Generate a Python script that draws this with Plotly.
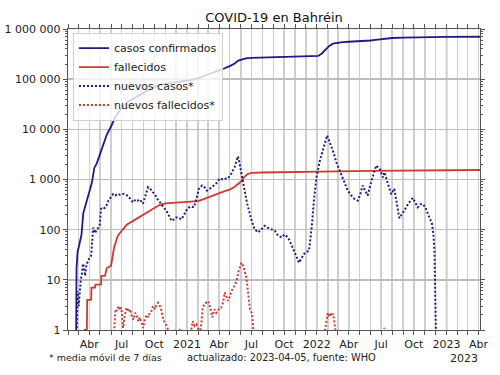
import plotly.graph_objects as go

# ---------------- data ----------------
cases_dates = ["2020-02-24","2020-02-25","2020-02-28","2020-03-05","2020-03-10","2020-03-15","2020-03-20",
    "2020-03-25","2020-04-01","2020-04-08","2020-04-15","2020-04-22","2020-05-01","2020-05-10","2020-05-20",
    "2020-06-01","2020-06-15","2020-07-01","2020-07-15","2020-08-01","2020-08-15","2020-09-01","2020-09-15",
    "2020-10-01","2020-10-15","2020-11-01","2020-11-15","2020-12-01","2020-12-15","2021-01-01","2021-01-15",
    "2021-02-01","2021-02-15","2021-03-01","2021-03-15","2021-04-01","2021-04-15","2021-05-01","2021-05-15",
    "2021-05-25","2021-06-05","2021-06-15","2021-07-01","2021-08-01","2021-09-01","2021-10-01","2021-11-01",
    "2021-12-01","2021-12-25","2022-01-05","2022-01-15","2022-01-25","2022-02-05","2022-02-15","2022-03-01",
    "2022-03-15","2022-04-01","2022-05-01","2022-06-01","2022-06-15","2022-07-01","2022-07-15","2022-08-01",
    "2022-09-01","2022-10-01","2022-11-01","2022-12-01","2023-01-01","2023-04-05"]
cases_values = [1,17,36,52,79,214,285,419,600,850,1700,2100,3200,4900,7800,11400,18500,26500,34500,40500,
    46000,52000,60000,70000,76000,81000,84000,87000,89500,92500,97000,104000,115000,124000,135000,148000,
    163000,182000,205000,235000,252000,260000,266000,270000,273500,275500,276800,277800,280000,290000,
    325000,385000,460000,510000,535000,550000,557000,568000,590000,610000,632000,650000,662000,675000,
    685000,693000,696000,698000,700000]

deaths_dates = ["2020-03-16","2020-03-25","2020-03-26","2020-04-06","2020-04-07","2020-04-17","2020-04-18",
    "2020-04-30","2020-05-01","2020-05-04","2020-05-05","2020-05-14","2020-05-15","2020-05-20","2020-06-01",
    "2020-06-10","2020-06-20","2020-07-01","2020-07-15","2020-08-01","2020-08-15","2020-09-01","2020-09-15",
    "2020-10-01","2020-10-15","2020-11-01","2020-11-15","2020-12-01","2020-12-20","2021-01-10","2021-02-01",
    "2021-02-15","2021-03-01","2021-03-15","2021-04-01","2021-04-15","2021-05-01","2021-05-15","2021-06-01",
    "2021-06-10","2021-06-20","2021-07-01","2021-08-01","2021-10-01","2022-01-01","2022-03-01","2022-06-01",
    "2022-09-01","2023-01-01","2023-04-05"]
deaths_values = [1,1,4,4,7,7,8,8,8,8,12,12,12,17,19,45,75,95,125,148,170,195,225,265,310,335,341,345,350,
    355,372,400,440,480,530,580,630,720,900,1100,1280,1350,1380,1390,1395,1450,1480,1510,1540,1545]

new_cases_dates = ["2020-02-24","2020-02-26","2020-02-28","2020-03-02","2020-03-05","2020-03-08","2020-03-11",
    "2020-03-14","2020-03-17","2020-03-20","2020-03-24","2020-03-28","2020-04-02","2020-04-06","2020-04-09",
    "2020-04-12","2020-04-16","2020-04-21","2020-04-26","2020-04-30","2020-05-04","2020-05-09","2020-05-14",
    "2020-05-19","2020-05-25","2020-06-01","2020-06-07","2020-06-13","2020-06-20","2020-06-26","2020-07-05",
    "2020-07-12","2020-07-19","2020-07-26","2020-08-02","2020-08-09","2020-08-15","2020-08-21","2020-08-30",
    "2020-09-06","2020-09-13","2020-09-20","2020-09-27","2020-10-05","2020-10-12","2020-10-17","2020-10-25",
    "2020-11-04","2020-11-11","2020-11-18","2020-11-25","2020-12-01","2020-12-07","2020-12-16","2020-12-24",
    "2021-01-01","2021-01-10","2021-01-20","2021-01-27","2021-02-03","2021-02-12","2021-02-19","2021-02-26",
    "2021-03-06","2021-03-12","2021-03-17","2021-03-25","2021-04-03","2021-04-12","2021-04-20","2021-04-26",
    "2021-05-05","2021-05-15","2021-05-20","2021-05-24","2021-05-28","2021-06-02","2021-06-07","2021-06-12",
    "2021-06-19","2021-06-26","2021-07-03","2021-07-10","2021-07-20","2021-07-28","2021-08-07","2021-08-15",
    "2021-08-26","2021-09-05","2021-09-14","2021-09-24","2021-10-02","2021-10-12","2021-10-19","2021-10-26",
    "2021-11-04","2021-11-12","2021-11-20","2021-11-29","2021-12-10","2021-12-18","2021-12-24","2021-12-31",
    "2022-01-09","2022-01-18","2022-01-25","2022-01-30","2022-02-06","2022-02-15","2022-02-25","2022-03-10",
    "2022-03-20","2022-03-29","2022-04-08","2022-04-17","2022-04-26","2022-05-03","2022-05-10","2022-05-17",
    "2022-05-24","2022-06-03","2022-06-10","2022-06-17","2022-06-27","2022-07-06","2022-07-10","2022-07-18",
    "2022-07-29","2022-08-07","2022-08-14","2022-08-21","2022-09-04","2022-09-15","2022-09-28","2022-10-05",
    "2022-10-12","2022-10-19","2022-10-26","2022-11-02","2022-11-09","2022-11-16","2022-11-21","2022-11-25",
    "2022-11-28","2022-12-01","2022-12-03"]
new_cases_values = [0.3,4,6,3,6,10,13,21,18,12,20,24,28,30,60,110,85,95,110,120,260,280,270,300,380,450,
    510,480,520,500,520,500,470,400,350,400,380,400,330,480,700,640,560,470,380,350,290,240,190,150,160,
    175,175,160,200,260,290,280,400,650,760,700,600,650,700,760,850,1050,1000,1050,1050,1300,1780,2300,
    2900,2200,1500,950,600,330,205,140,102,88,100,120,110,102,95,76,70,80,70,55,41,30,22,28,35,38,120,400,
    1100,2300,3800,6000,7600,5500,3800,2200,1300,850,600,480,410,380,500,760,600,480,900,1400,1900,1630,
    1100,1400,900,510,650,350,170,240,330,430,350,280,320,325,280,220,160,130,80,38,4,0.3]

new_deaths_dates = ["2020-06-05","2020-06-10","2020-06-14","2020-06-18","2020-06-22","2020-06-26","2020-06-30",
    "2020-07-05","2020-07-10","2020-07-15","2020-07-20","2020-07-25","2020-07-29","2020-08-03","2020-08-08",
    "2020-08-12","2020-08-17","2020-08-21","2020-08-26","2020-08-30","2020-09-04","2020-09-09","2020-09-14",
    "2020-09-19","2020-09-23","2020-09-27","2020-10-03","2020-10-07","2020-10-11","2020-10-15","2020-10-19",
    "2020-10-24","2020-10-28","2020-11-02","2020-11-07","2020-11-12","2020-11-16","2020-11-25","2020-12-01",
    "2020-12-08","2020-12-14","2020-12-20","2021-01-05","2021-01-12","2021-01-17","2021-01-22","2021-01-27",
    "2021-02-01","2021-02-06","2021-02-10","2021-02-14","2021-02-19","2021-02-23","2021-02-27","2021-03-03",
    "2021-03-08","2021-03-13","2021-03-19","2021-03-24","2021-03-28","2021-04-03","2021-04-07","2021-04-12",
    "2021-04-17","2021-04-21","2021-04-26","2021-04-30","2021-05-06","2021-05-12","2021-05-20","2021-05-26",
    "2021-06-03","2021-06-08","2021-06-13","2021-06-17","2021-06-22","2021-06-27","2021-07-03","2021-07-06",
    "2021-07-09","2022-01-20","2022-01-24","2022-01-28","2022-02-01","2022-02-04","2022-02-08","2022-02-12",
    "2022-02-16","2022-02-20","2022-02-23","2022-02-26","2022-07-07","2022-07-10","2022-07-13"]
new_deaths_values = [0.3,1.0,2.6,2.4,3.0,2.5,2.8,1.1,2.0,2.8,2.3,2.6,1.9,1.6,2.2,2.0,1.5,1.8,1.3,1.1,1.6,
    2.0,1.8,2.3,2.4,3.0,2.6,3.2,3.5,3.0,2.8,1.9,1.5,1.3,1.1,0.9,0.5,0.9,1.02,0.9,1.05,0.9,0.5,0.9,1.5,1.2,
    1.3,1.1,0.8,1.3,2.8,3.3,3.5,3.3,3.6,2.6,1.8,2.6,2.2,2.4,2.8,2.8,3.5,5.6,4.8,3.8,4.4,6.0,7.0,9.5,15,
    22,19,13,11,5.2,2.6,2.1,1.2,0.3,0.3,1.0,1.4,2.2,1.8,2.2,1.9,2.1,1.3,0.9,0.3,0.5,1.1,0.5]

series_names = ["casos confirmados", "fallecidos", "nuevos casos*", "nuevos fallecidos*"]
y_tick_values = [1, 10, 100, 1000, 10000, 100000, 1000000]
y_tick_labels = ["1", "10", "100", "1 000", "10 000", "100 000", "1 000 000"]
month_ticks = ["2020-02-01","2020-03-01","2020-04-01","2020-05-01","2020-06-01","2020-07-01","2020-08-01",
    "2020-09-01","2020-10-01","2020-11-01","2020-12-01","2021-01-01","2021-02-01","2021-03-01","2021-04-01",
    "2021-05-01","2021-06-01","2021-07-01","2021-08-01","2021-09-01","2021-10-01","2021-11-01","2021-12-01",
    "2022-01-01","2022-02-01","2022-03-01","2022-04-01","2022-05-01","2022-06-01","2022-07-01","2022-08-01",
    "2022-09-01","2022-10-01","2022-11-01","2022-12-01","2023-01-01","2023-02-01","2023-03-01","2023-04-01"]
month_labels = ["","","Abr","","","Jul","","","Oct","","","2021","","","Abr","","","Jul","","","Oct","","",
    "2022","","","Abr","","","Jul","","","Oct","","","2023","","","Abr"]
year_lines = ["2021-01-01", "2022-01-01", "2023-01-01"]

# ---------------- figure ----------------
BLUE = "#1c1c84"
RED = "#d03a30"
FONT = "DejaVu Sans"

fig = go.Figure()
fig.add_trace(go.Scatter(x=cases_dates, y=cases_values, name=series_names[0], mode="lines",
                         line=dict(color=BLUE, width=1.8)))
fig.add_trace(go.Scatter(x=deaths_dates, y=deaths_values, name=series_names[1], mode="lines",
                         line=dict(color=RED, width=1.8)))
fig.add_trace(go.Scatter(x=new_cases_dates, y=new_cases_values, name=series_names[2], mode="lines",
                         line=dict(color=BLUE, width=2, dash="2px,2px")))
fig.add_trace(go.Scatter(x=new_deaths_dates, y=new_deaths_values, name=series_names[3], mode="lines",
                         line=dict(color=RED, width=2, dash="2px,2px")))

for d in year_lines:
    fig.add_shape(type="line", xref="x", yref="paper", x0=d, x1=d, y0=0, y1=1,
                  line=dict(color="#9a9a9a", width=1.5), layer="below")

minor_vals = [m * 10 ** e for e in range(0, 6) for m in range(2, 10)]

fig.update_layout(
    width=500, height=375,
    margin=dict(l=68, r=20, t=29, b=45, autoexpand=False),
    paper_bgcolor="white", plot_bgcolor="white",
    font=dict(family=FONT, size=11, color="#222"),
    title=dict(text="COVID-19 en Bahréin", x=0.5, xref="paper", xanchor="center",
               y=1 - 17 / 375, yref="container", yanchor="middle",
               font=dict(family=FONT, size=13, color="#111")),
    showlegend=True,
    hovermode=False,
    legend=dict(x=0.012, y=0.988, xanchor="left", yanchor="top",
                bgcolor="rgba(255,255,255,0.8)", bordercolor="#d0d0d0", borderwidth=1,
                font=dict(family=FONT, size=11, color="#222"), tracegroupgap=0,
                itemwidth=30),
    xaxis=dict(type="date", range=["2020-02-01", "2023-04-05"], automargin=False,
               tickmode="array", tickvals=month_ticks, ticktext=month_labels,
               ticks="outside", ticklen=4, tickcolor="#555", tickwidth=1,
               showgrid=True, gridcolor="#cfcfcf", gridwidth=1.5,
               showline=True, linecolor="#555", linewidth=1.2, mirror="ticks",
               zeroline=False, tickfont=dict(family=FONT, size=11, color="#222")),
    yaxis=dict(type="log", range=[0, 6], automargin=False,
               tickmode="array", tickvals=y_tick_values, ticktext=y_tick_labels,
               ticks="outside", ticklen=4, tickcolor="#555", tickwidth=1,
               minor=dict(tickmode="array", tickvals=minor_vals, ticks="outside",
                          ticklen=2, tickcolor="#555", showgrid=False),
               showgrid=True, gridcolor="#bdbdbd", gridwidth=1.5,
               showline=True, linecolor="#555", linewidth=1.2, mirror="ticks",
               zeroline=False, tickfont=dict(family=FONT, size=11, color="#222")),
)

fig.add_annotation(text="* media móvil de 7 días", xref="paper", yref="paper",
                   x=(47 - 68) / 412, y=(330 - 357) / 301, xanchor="left", yanchor="middle",
                   showarrow=False, font=dict(family=FONT, size=9.5, color="#222"))
fig.add_annotation(text="actualizado: 2023-04-05, fuente: WHO", xref="paper", yref="paper",
                   x=(185 - 68) / 412, y=(330 - 357) / 301, xanchor="left", yanchor="middle",
                   showarrow=False, font=dict(family=FONT, size=9.8, color="#222"))
fig.add_annotation(text="2023", xref="paper", yref="paper",
                   x=(480 - 68) / 412, y=(330 - 358) / 301, xanchor="right", yanchor="middle",
                   showarrow=False, font=dict(family=FONT, size=11, color="#222"))

fig.write_html("out.html", config={"displayModeBar": False, "staticPlot": True},
               post_script="document.body.style.margin='0';")
